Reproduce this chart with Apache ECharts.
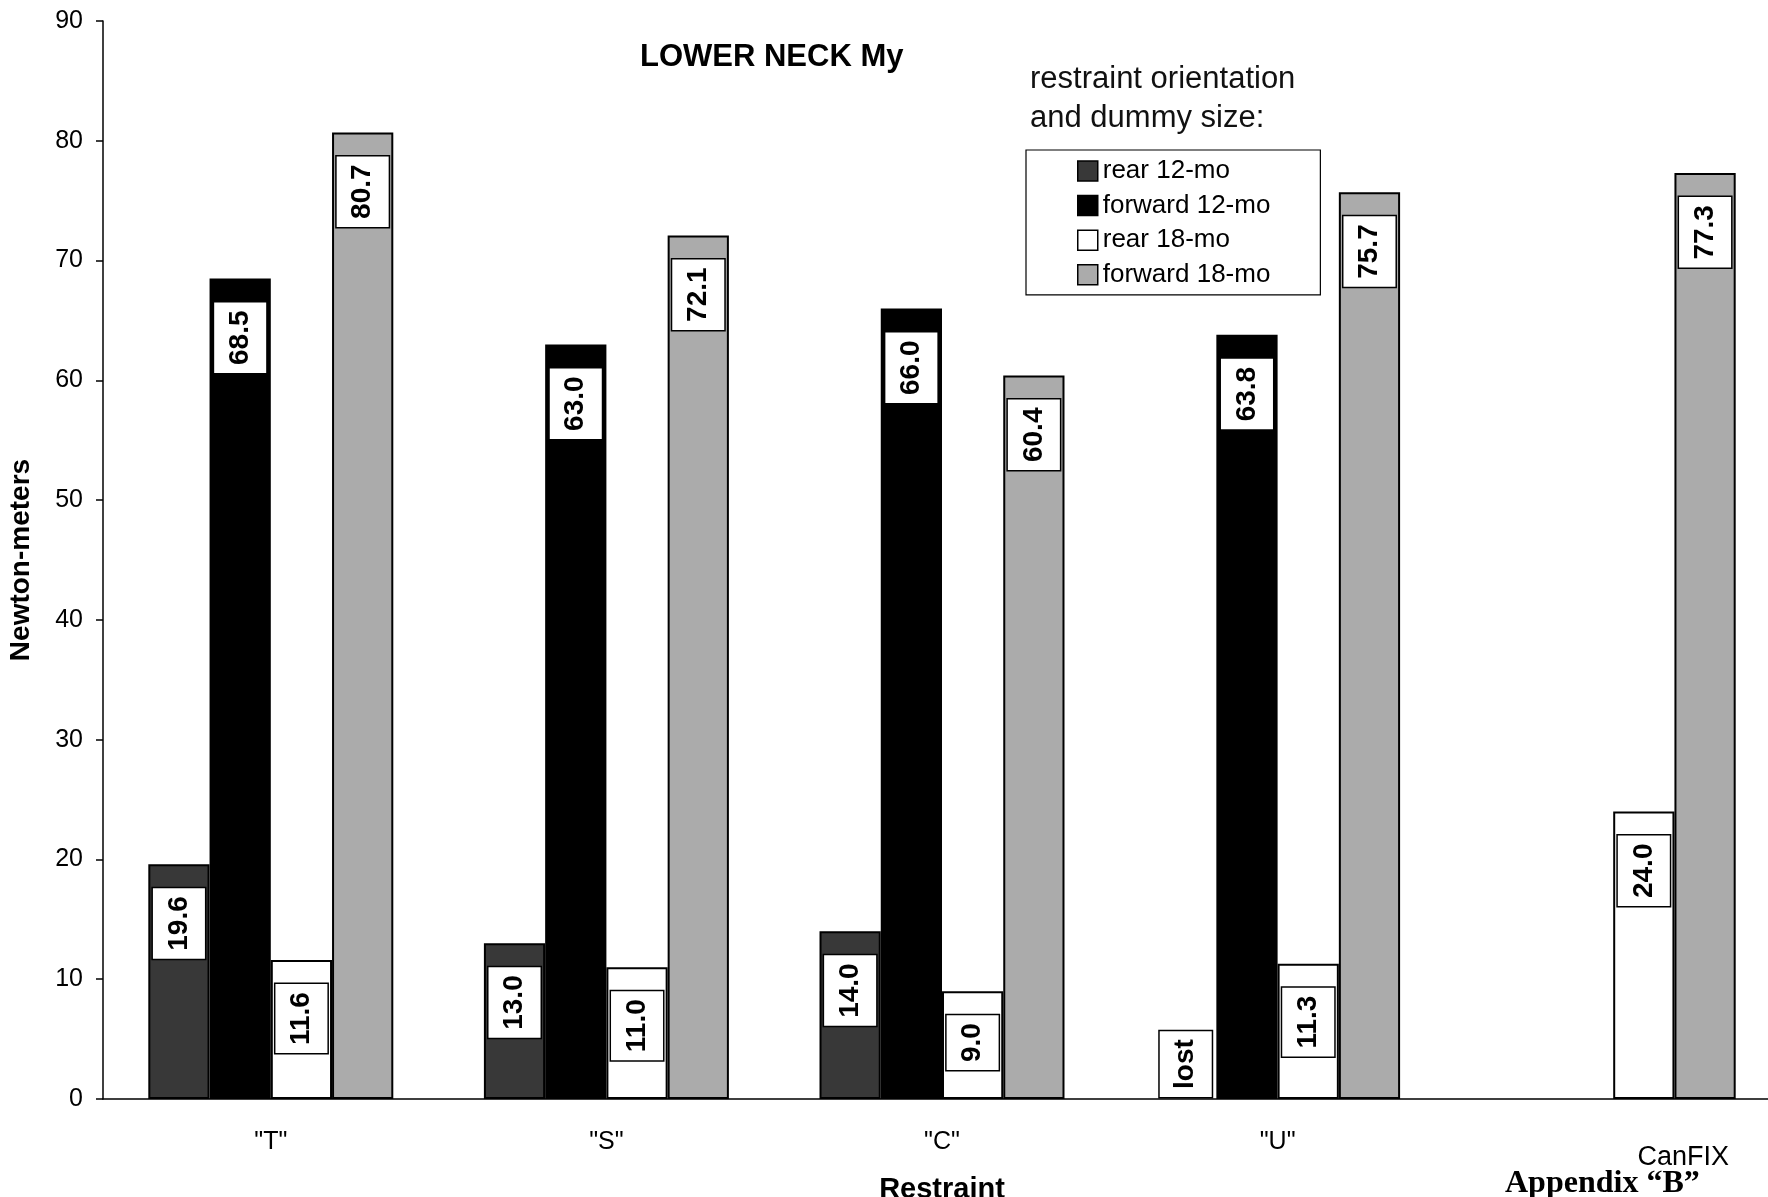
<!DOCTYPE html>
<html>
<head>
<meta charset="utf-8">
<title>LOWER NECK My</title>
<script src="https://cdn.jsdelivr.net/npm/echarts@6/dist/echarts.min.js"></script>
<style>
  html, body { margin: 0; padding: 0; background: #fff; }
  #chart { width: 1768px; height: 1197px; }
</style>
</head>
<body>
<div id="chart"></div>
<script>
// Lower neck moment (My) by restraint type, orientation and dummy size
const categories = ['"T"', '"S"', '"C"', '"U"', 'CanFIX'];
const seriesNames = ['rear 12-mo', 'forward 12-mo', 'rear 18-mo', 'forward 18-mo'];
const rear12 = [19.6, 13.0, 14.0, 0, null];      // "U" rear 12-mo measurement was lost
const forward12 = [68.5, 63.0, 66.0, 63.8, null];
const rear18 = [11.6, 11.0, 9.0, 11.3, 24.0];
const forward18 = [80.7, 72.1, 60.4, 75.7, 77.3];
const lostIndex = 3;
const yTicks = { min: 0, max: 90, step: 10 };

const FONT = "'Liberation Sans', Arial, Helvetica, sans-serif";
const colors = ['#383838', '#000000', '#ffffff', '#ababab'];

const valueLabel = {
  show: true,
  position: 'insideTop',
  distance: 24,
  rotate: 90,
  align: 'right',
  verticalAlign: 'middle',
  fontFamily: FONT,
  fontSize: 28,
  fontWeight: 'bold',
  lineHeight: 32,
  color: '#000',
  backgroundColor: '#fff',
  borderColor: '#000',
  borderWidth: 1.5,
  padding: [10, 8],
  formatter: p => (p.value == null ? '' : Number(p.value).toFixed(1))
};

function makeSeries(name, values, color, idx) {
  const data = values.map((v, i) => {
    if (idx === 0 && i === lostIndex) {
      return {
        value: v,
        itemStyle: { color: 'transparent', borderWidth: 0 },
        label: { position: 'insideBottom', align: 'left', distance: 2, formatter: 'lost' }
      };
    }
    return v;
  });
  return {
    name: name,
    type: 'bar',
    data: data,
    barGap: '0%',
    barCategoryGap: '27%',
    itemStyle: { color: color, borderColor: '#000', borderWidth: 2 },
    label: valueLabel,
    emphasis: { disabled: true },
    animation: false
  };
}

const chart = echarts.init(document.getElementById('chart'), null, { renderer: 'canvas' });

chart.setOption({
  backgroundColor: '#fff',
  animation: false,
  textStyle: { fontFamily: FONT },
  title: {
    text: 'LOWER NECK My',
    left: 640,
    top: 39,
    padding: 0,
    textStyle: { fontFamily: FONT, fontSize: 31, fontWeight: 'bold', color: '#000', lineHeight: 36 }
  },
  legend: {
    orient: 'vertical',
    left: 1026,
    top: 150,
    padding: [6, 50, 5, 51],
    itemWidth: 20,
    itemHeight: 20,
    itemGap: 4.6,
    itemTextGap: 4,
    icon: 'rect',
    borderColor: '#000',
    borderWidth: 1.2,
    backgroundColor: '#fff',
    data: seriesNames,
    itemStyle: { borderColor: '#000', borderWidth: 1.5 },
    textStyle: { fontFamily: FONT, fontSize: 26, color: '#000', lineHeight: 30 }
  },
  graphic: [
    {
      type: 'text',
      left: 1030,
      top: 60,
      style: {
        text: 'restraint orientation\nand dummy size:',
        font: '31px ' + FONT,
        lineHeight: 39,
        fill: '#111'
      }
    },
    {
      type: 'text',
      left: 1505,
      top: 1168,
      style: {
        text: 'Appendix \u201CB\u201D',
        font: 'bold 32px "Liberation Serif", "Times New Roman", serif',
        fill: '#000'
      }
    }
  ],
  grid: { left: 103, width: 1678, top: 21, height: 1078, containLabel: false, outerBoundsMode: 'none' },
  xAxis: {
    type: 'category',
    data: categories,
    name: 'Restraint',
    nameLocation: 'middle',
    nameGap: 72,
    nameTextStyle: { fontFamily: FONT, fontSize: 29, fontWeight: 'bold', color: '#000' },
    axisLine: { lineStyle: { color: '#000', width: 1.5 } },
    axisTick: { inside: true, length: 9, lineStyle: { color: '#000', width: 1.5 } },
    axisLabel: {
      fontFamily: FONT,
      fontSize: 25,
      color: '#000',
      margin: 31,
      formatter: (v, i) => (i === categories.length - 1 ? '{last|' + v + '}' : v),
      rich: { last: { fontFamily: FONT, fontSize: 27, color: '#000', padding: [14, 0, 0, 140] } }
    },
    splitLine: { show: false }
  },
  yAxis: {
    type: 'value',
    min: yTicks.min,
    max: yTicks.max,
    interval: yTicks.step,
    name: 'Newton-meters',
    nameLocation: 'middle',
    nameRotate: 90,
    nameGap: 68,
    nameTextStyle: { fontFamily: FONT, fontSize: 28, fontWeight: 'bold', color: '#000' },
    axisLine: { show: true, lineStyle: { color: '#000', width: 1.5 } },
    axisTick: { show: true, length: 7, lineStyle: { color: '#000', width: 1.5 } },
    axisLabel: { fontFamily: FONT, fontSize: 25, color: '#000', margin: 20 },
    splitLine: { show: false }
  },
  series: [
    makeSeries(seriesNames[0], rear12, colors[0], 0),
    makeSeries(seriesNames[1], forward12, colors[1], 1),
    makeSeries(seriesNames[2], rear18, colors[2], 2),
    makeSeries(seriesNames[3], forward18, colors[3], 3)
  ]
});
</script>
</body>
</html>
